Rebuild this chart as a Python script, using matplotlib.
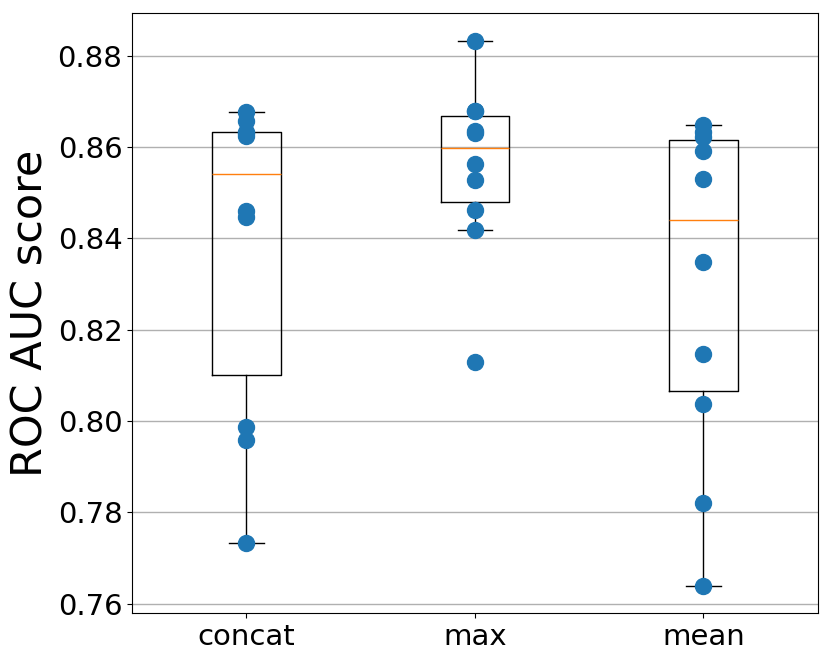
import matplotlib
matplotlib.use("Agg")
import matplotlib.pyplot as plt
import numpy as np

categories = ["concat", "max", "mean"]
concat_scores = [0.7732, 0.7958, 0.7986, 0.8446, 0.8460, 0.8624, 0.8630, 0.8634, 0.8658, 0.8676]
max_scores = [0.8130, 0.8418, 0.8463, 0.8527, 0.8564, 0.8630, 0.8636, 0.8678, 0.8680, 0.8833]
mean_scores = [0.7639, 0.7820, 0.8038, 0.8147, 0.8348, 0.8531, 0.8591, 0.8623, 0.8632, 0.8649]
data = [concat_scores, max_scores, mean_scores]

fig = plt.figure(figsize=(8.31, 6.61), dpi=100)
ax = fig.add_axes([0.159, 0.0726, 0.825, 0.907])
ax.grid(axis="y", color="#b0b0b0", linewidth=1.0)
ax.set_axisbelow(True)
ax.boxplot(data, widths=0.3, showfliers=False)
for i, vals in enumerate(data, start=1):
    ax.plot([i] * len(vals), vals, "o", color="C0", markersize=11.5, linestyle="none")
ax.set_xticks([1, 2, 3])
ax.set_xticklabels(categories)
ax.tick_params(axis="both", labelsize=21)
ax.set_ylabel("ROC AUC score", fontsize=31)
ax.set_xlim(0.5, 3.5)
fig.savefig("out.png", dpi=100)
